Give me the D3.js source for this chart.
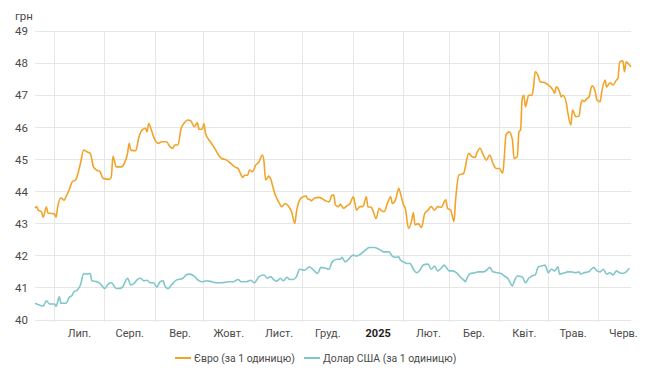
<!DOCTYPE html>
<html><head><meta charset="utf-8">
<script src="https://cdn.jsdelivr.net/npm/d3@7"></script>
<style>
html,body{margin:0;padding:0;background:#fff;}
svg{display:block;font-family:Roboto,"Noto Sans",sans-serif;}
</style></head>
<body><svg id="c" width="650" height="383"></svg>
<script>
const unitLabel = "грн";
const yTicks = [40,41,42,43,44,45,46,47,48,49];
const monthStarts = ["2024-07-01","2024-08-01","2024-09-01","2024-10-01","2024-11-01","2024-12-01","2025-01-01","2025-02-01","2025-03-01","2025-04-01","2025-05-01","2025-06-01"];
const monthLabels = ["Лип.","Серп.","Вер.","Жовт.","Лист.","Груд.","2025","Лют.","Бер.","Квіт.","Трав.","Черв."];
const seriesNames = ["Євро (за 1 одиницю)","Долар США (за 1 одиницю)"];
const seriesColors = ["#f2a42a","#80c6ca"];

const eurDates = ["2024-06-19","2024-06-20","2024-06-21","2024-06-23","2024-06-24","2024-06-26","2024-06-27","2024-07-01","2024-07-02","2024-07-03","2024-07-05","2024-07-07","2024-07-08","2024-07-10","2024-07-12","2024-07-14","2024-07-16","2024-07-17","2024-07-19","2024-07-21","2024-07-23","2024-07-25","2024-07-27","2024-07-29","2024-07-31","2024-08-04","2024-08-05","2024-08-06","2024-08-08","2024-08-11","2024-08-13","2024-08-15","2024-08-16","2024-08-17","2024-08-20","2024-08-22","2024-08-24","2024-08-26","2024-08-27","2024-08-28","2024-08-30","2024-08-31","2024-09-03","2024-09-05","2024-09-08","2024-09-10","2024-09-12","2024-09-13","2024-09-15","2024-09-17","2024-09-19","2024-09-21","2024-09-23","2024-09-25","2024-09-27","2024-09-28","2024-09-30","2024-10-01","2024-10-02","2024-10-05","2024-10-07","2024-10-10","2024-10-12","2024-10-14","2024-10-15","2024-10-17","2024-10-20","2024-10-22","2024-10-23","2024-10-25","2024-10-26","2024-10-28","2024-10-29","2024-10-31","2024-11-02","2024-11-04","2024-11-06","2024-11-07","2024-11-08","2024-11-10","2024-11-11","2024-11-13","2024-11-14","2024-11-16","2024-11-18","2024-11-20","2024-11-22","2024-11-24","2024-11-26","2024-11-27","2024-11-29","2024-12-01","2024-12-03","2024-12-04","2024-12-05","2024-12-06","2024-12-08","2024-12-11","2024-12-15","2024-12-17","2024-12-19","2024-12-20","2024-12-21","2024-12-23","2024-12-24","2024-12-26","2024-12-28","2024-12-30","2025-01-01","2025-01-02","2025-01-03","2025-01-05","2025-01-07","2025-01-09","2025-01-10","2025-01-12","2025-01-13","2025-01-15","2025-01-17","2025-01-18","2025-01-20","2025-01-22","2025-01-24","2025-01-25","2025-01-27","2025-01-29","2025-01-30","2025-02-01","2025-02-02","2025-02-04","2025-02-06","2025-02-07","2025-02-08","2025-02-10","2025-02-12","2025-02-14","2025-02-16","2025-02-18","2025-02-20","2025-02-22","2025-02-24","2025-02-27","2025-02-28","2025-03-02","2025-03-04","2025-03-05","2025-03-07","2025-03-10","2025-03-11","2025-03-13","2025-03-15","2025-03-17","2025-03-18","2025-03-20","2025-03-22","2025-03-24","2025-03-26","2025-03-28","2025-03-30","2025-04-01","2025-04-03","2025-04-04","2025-04-05","2025-04-07","2025-04-09","2025-04-10","2025-04-12","2025-04-13","2025-04-14","2025-04-15","2025-04-16","2025-04-17","2025-04-19","2025-04-21","2025-04-22","2025-04-23","2025-04-25","2025-04-26","2025-04-29","2025-05-01","2025-05-04","2025-05-05","2025-05-06","2025-05-08","2025-05-09","2025-05-10","2025-05-12","2025-05-13","2025-05-15","2025-05-16","2025-05-18","2025-05-20","2025-05-21","2025-05-22","2025-05-23","2025-05-25","2025-05-26","2025-05-28","2025-05-30","2025-05-31","2025-06-02","2025-06-03","2025-06-05","2025-06-06","2025-06-08","2025-06-10","2025-06-12","2025-06-13","2025-06-14","2025-06-16","2025-06-17","2025-06-18","2025-06-20","2025-06-21"];
const eurValues = [43.49,43.53,43.42,43.37,43.2,43.52,43.33,43.3,43.2,43.53,43.8,43.73,43.83,44.05,44.31,44.36,44.67,44.88,45.29,45.24,45.19,44.77,44.67,44.62,44.41,44.38,44.46,45.1,44.77,44.77,44.88,45.19,45.5,45.29,45.27,45.7,45.92,45.97,45.86,46.12,45.86,45.71,45.5,45.55,45.55,45.4,45.35,45.45,45.45,45.97,46.14,46.23,46.2,46.02,46.14,45.94,45.94,46.12,45.81,45.55,45.4,45.14,45.03,45.0,44.98,44.9,44.77,44.72,44.62,44.44,44.51,44.51,44.67,44.62,44.83,44.93,45.14,44.93,44.36,44.48,44.41,44.05,43.89,43.68,43.53,43.63,43.55,43.37,43.01,43.37,43.74,43.84,43.86,43.76,43.76,43.71,43.79,43.82,43.71,43.68,43.89,43.89,43.58,43.53,43.61,43.48,43.55,43.63,43.84,43.63,43.42,43.53,43.53,43.84,43.53,43.51,43.42,43.16,43.48,43.42,43.37,43.63,43.84,43.63,43.74,44.1,43.95,43.58,43.48,42.85,43.11,43.35,42.96,43.0,42.88,43.32,43.42,43.53,43.42,43.53,43.51,43.74,43.48,43.42,43.06,43.74,44.51,44.57,44.77,45.19,45.09,45.06,45.19,45.35,45.14,44.98,45.14,44.88,44.72,44.72,44.57,45.09,45.76,45.86,45.6,45.03,45.09,45.86,45.92,46.9,47.0,46.64,47.0,47.0,47.26,47.73,47.58,47.42,47.39,47.32,47.16,47.06,47.26,47.11,46.95,47.0,46.8,46.49,46.07,46.54,46.33,46.35,46.69,46.85,46.8,46.9,46.93,47.29,47.11,46.85,46.8,47.11,47.47,47.26,47.39,47.32,47.47,47.53,48.04,48.07,47.73,48.04,47.94,47.89];

const usdDates = ["2024-06-19","2024-06-22","2024-06-24","2024-06-26","2024-06-28","2024-07-01","2024-07-02","2024-07-04","2024-07-05","2024-07-08","2024-07-10","2024-07-12","2024-07-13","2024-07-15","2024-07-17","2024-07-19","2024-07-21","2024-07-23","2024-07-24","2024-07-27","2024-07-29","2024-08-01","2024-08-03","2024-08-05","2024-08-08","2024-08-10","2024-08-12","2024-08-14","2024-08-15","2024-08-17","2024-08-19","2024-08-21","2024-08-23","2024-08-25","2024-08-27","2024-08-29","2024-08-31","2024-09-02","2024-09-04","2024-09-06","2024-09-07","2024-09-09","2024-09-11","2024-09-14","2024-09-18","2024-09-20","2024-09-22","2024-09-25","2024-09-27","2024-09-30","2024-10-03","2024-10-06","2024-10-09","2024-10-12","2024-10-16","2024-10-19","2024-10-22","2024-10-24","2024-10-27","2024-10-30","2024-11-01","2024-11-04","2024-11-07","2024-11-09","2024-11-11","2024-11-13","2024-11-15","2024-11-17","2024-11-19","2024-11-21","2024-11-23","2024-11-25","2024-11-27","2024-11-29","2024-12-02","2024-12-05","2024-12-07","2024-12-10","2024-12-12","2024-12-15","2024-12-17","2024-12-19","2024-12-22","2024-12-24","2024-12-25","2024-12-27","2024-12-29","2025-01-01","2025-01-03","2025-01-06","2025-01-09","2025-01-11","2025-01-14","2025-01-17","2025-01-20","2025-01-23","2025-01-25","2025-01-27","2025-01-29","2025-01-30","2025-02-01","2025-02-03","2025-02-05","2025-02-07","2025-02-09","2025-02-11","2025-02-13","2025-02-16","2025-02-18","2025-02-20","2025-02-22","2025-02-24","2025-02-26","2025-02-28","2025-03-01","2025-03-03","2025-03-06","2025-03-08","2025-03-10","2025-03-11","2025-03-12","2025-03-14","2025-03-17","2025-03-19","2025-03-22","2025-03-24","2025-03-26","2025-03-28","2025-03-31","2025-04-02","2025-04-04","2025-04-06","2025-04-07","2025-04-09","2025-04-10","2025-04-12","2025-04-15","2025-04-17","2025-04-19","2025-04-21","2025-04-23","2025-04-25","2025-04-27","2025-04-29","2025-04-30","2025-05-01","2025-05-03","2025-05-05","2025-05-07","2025-05-08","2025-05-11","2025-05-13","2025-05-15","2025-05-18","2025-05-20","2025-05-21","2025-05-23","2025-05-26","2025-05-29","2025-05-31","2025-06-02","2025-06-04","2025-06-06","2025-06-08","2025-06-10","2025-06-12","2025-06-14","2025-06-16","2025-06-18","2025-06-20"];
const usdValues = [40.52,40.46,40.43,40.6,40.5,40.5,40.43,40.72,40.52,40.52,40.7,40.78,40.88,40.93,41.09,41.45,41.43,41.45,41.22,41.19,41.14,40.98,41.12,41.16,40.98,40.98,41.03,41.24,41.3,41.09,41.14,41.26,41.3,41.22,41.24,41.16,41.16,41.03,41.19,41.22,41.06,40.98,41.09,41.24,41.3,41.4,41.43,41.37,41.26,41.19,41.22,41.19,41.16,41.16,41.19,41.19,41.26,41.19,41.19,41.24,41.16,41.35,41.4,41.3,41.35,41.26,41.21,41.3,41.22,41.33,41.26,41.26,41.35,41.58,41.55,41.66,41.58,41.45,41.64,41.61,41.58,41.81,41.89,41.89,41.95,41.81,41.89,42.02,41.99,42.07,42.2,42.26,42.26,42.2,42.12,42.12,41.99,41.95,41.97,41.87,41.81,41.76,41.76,41.58,41.47,41.55,41.71,41.74,41.58,41.68,41.53,41.61,41.71,41.58,41.53,41.53,41.45,41.33,41.24,41.19,41.3,41.45,41.47,41.5,41.5,41.55,41.64,41.5,41.47,41.45,41.37,41.3,41.22,41.06,41.19,41.37,41.35,41.16,41.3,41.37,41.4,41.66,41.68,41.71,41.61,41.47,41.58,41.53,41.66,41.43,41.47,41.5,41.5,41.47,41.5,41.43,41.47,41.5,41.64,41.53,41.5,41.58,41.43,41.47,41.4,41.53,41.47,41.45,41.5,41.61];

const parse = d3.timeParse("%Y-%m-%d");
const eur = eurDates.map((d,i)=>({date:parse(d), value:eurValues[i]}));
const usd = usdDates.map((d,i)=>({date:parse(d), value:usdValues[i]}));
const allDates = eur.concat(usd).map(d=>d.date);

const svg = d3.select("#c");
const m = {left:35, right:19, top:31, bottom:63};
const W = 650, H = 383;

const x = d3.scaleTime().domain(d3.extent(allDates)).range([m.left, W - m.right]);
const y = d3.scaleLinear().domain([40,49]).range([H - m.bottom, m.top]);

const gridColor = "#e6e6e6";
svg.append("g").selectAll("line").data(yTicks).join("line")
  .attr("x1", m.left).attr("x2", W - m.right)
  .attr("y1", d=>y(d)).attr("y2", d=>y(d))
  .attr("stroke", gridColor).attr("stroke-width",1).attr("shape-rendering","crispEdges");
const ms = monthStarts.map(parse);
svg.append("g").selectAll("line").data(ms).join("line")
  .attr("x1", d=>x(d)).attr("x2", d=>x(d))
  .attr("y1", m.top).attr("y2", H - m.bottom + 2)
  .attr("stroke", gridColor).attr("stroke-width",1).attr("shape-rendering","crispEdges");

const yAxis = d3.axisLeft(y).tickValues(yTicks).tickSize(0).tickPadding(7).tickFormat(d3.format("d"));
const gy = svg.append("g").attr("transform",`translate(${m.left},0)`).call(yAxis);
gy.select(".domain").remove();
gy.selectAll("text").attr("fill","#4a4a4a").style("font-size","11.5px").style("font-family","Roboto, sans-serif");

svg.append("text").attr("x", 15).attr("y", 20).text(unitLabel)
  .attr("fill","#4a4a4a").style("font-size","11.5px");

const mid = ms.map(d=>d3.timeDay.offset(d, 15));
const xAxis = d3.axisBottom(x).tickValues(mid).tickSize(0).tickPadding(9)
  .tickFormat((d,i)=>monthLabels[i]);
const gx = svg.append("g").attr("transform",`translate(0,${H - m.bottom})`).call(xAxis);
gx.select(".domain").remove();
gx.selectAll("text").style("font-size","11px").style("font-family","Roboto, sans-serif")
  .style("font-weight",(d,i)=>monthLabels[i]==="2025"?"bold":"normal")
  .attr("fill",(d,i)=>monthLabels[i]==="2025"?"#222":"#4a4a4a");

const line = d3.line().x(d=>x(d.date)).y(d=>y(d.value)).curve(d3.curveMonotoneX);
[eur, usd].forEach((s,i)=>{
  svg.append("path").datum(s).attr("d", line).attr("fill","none")
    .attr("stroke", seriesColors[i]).attr("stroke-width",1.6).attr("stroke-linejoin","round");
});

const legendX = [175, 304];
const lg = svg.append("g");
seriesNames.forEach((n,i)=>{
  lg.append("line").attr("x1", legendX[i]).attr("x2", legendX[i]+16).attr("y1",358).attr("y2",358)
    .attr("stroke", seriesColors[i]).attr("stroke-width",2);
  lg.append("text").attr("x", legendX[i]+19).attr("y", 361.5).text(n)
    .attr("fill","#4a4a4a").style("font-size","10.4px");
});
</script></body></html>
